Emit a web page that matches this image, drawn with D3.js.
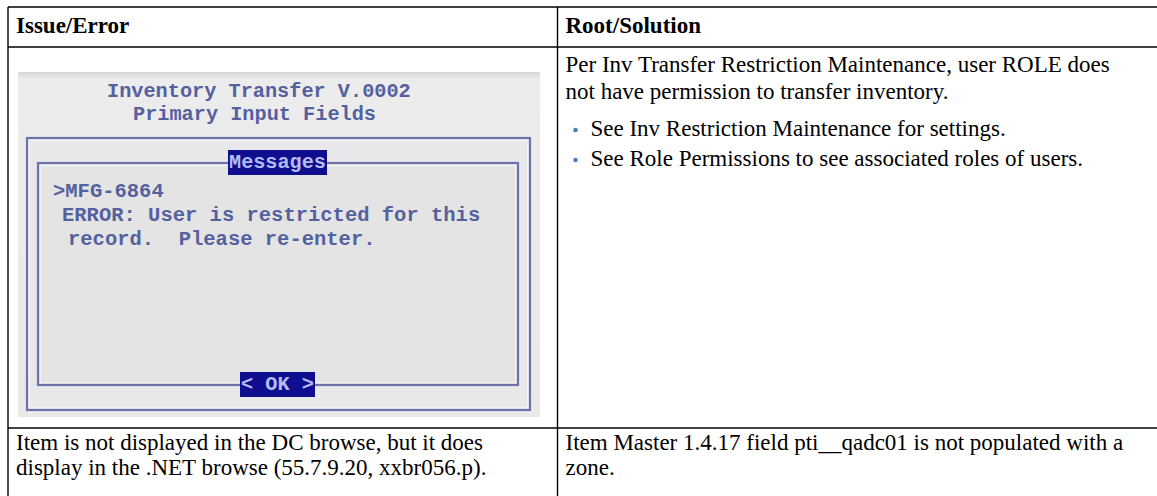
<!DOCTYPE html>
<html>
<head>
<meta charset="utf-8">
<script src="https://cdn.jsdelivr.net/npm/d3@7"></script>
<style>
  html, body { margin: 0; padding: 0; background: #ffffff; }
  svg { display: block; }
  text { white-space: pre; }
</style>
</head>
<body>
<div id="chart"></div>
<script>
// ---------- data ----------
const headers = ["Issue/Error", "Root/Solution"];
const rowIds = ["header", "row1", "row2"];
const solution1Lines = [
  "Per Inv Transfer Restriction Maintenance, user ROLE does",
  "not have permission to transfer inventory."
];
const solution1Bullets = [
  "See Inv Restriction Maintenance for settings.",
  "See Role Permissions to see associated roles of users."
];
const issue2Lines = [
  "Item is not displayed in the DC browse, but it does",
  "display in the .NET browse (55.7.9.20, xxbr056.p)."
];
const solution2Lines = [
  "Item Master 1.4.17 field pti__qadc01 is not populated with a",
  "zone."
];
const screenTitleLines = ["Inventory Transfer V.0002", "Primary Input Fields"];
const screenMessageLines = [">MFG-6864", "ERROR: User is restricted for this", "record.  Please re-enter."];
const screenLabel = "Messages";
const screenButton = "< OK >";

// ---------- layout ----------
const W = 1157, H = 496;
const svg = d3.select("#chart").append("svg").attr("width", W).attr("height", H);

const col = d3.scaleOrdinal().domain(headers).range([8, 557.5]);   // column left edges
const rowTop = d3.scaleOrdinal().domain(rowIds).range([7, 47, 428]);
const tableRight = 1170, tableBottom = 510;
const pad = 8;
const serif = "'Liberation Serif', 'Times New Roman', serif";
const mono = "'Liberation Mono', 'Courier New', monospace";
const fs = 23, lh = 27;

// grid lines
const g = svg.append("g");
g.selectAll("line.h").data(rowIds).join("line")
  .attr("x1", 8).attr("x2", tableRight)
  .attr("y1", d => rowTop(d)).attr("y2", d => rowTop(d))
  .attr("stroke", "#000").attr("stroke-width", 1.4);
g.selectAll("line.v").data(headers).join("line")
  .attr("x1", d => col(d)).attr("x2", d => col(d))
  .attr("y1", rowTop("header")).attr("y2", tableBottom)
  .attr("stroke", "#000").attr("stroke-width", 1.4);

// header texts
svg.selectAll("text.hdr").data(headers).join("text")
  .attr("x", d => col(d) + pad).attr("y", rowTop("header") + 26)
  .attr("font-family", serif).attr("font-weight", "bold").attr("font-size", fs)
  .attr("fill", "#000").text(d => d);

// row 1 solution
const c2 = col(headers[1]) + pad;
svg.selectAll("text.s1").data(solution1Lines).join("text")
  .attr("x", c2).attr("y", (d, i) => rowTop("row1") + 25 + i * lh)
  .attr("font-family", serif).attr("font-size", fs).attr("fill", "#000").text(d => d);
const bTop = rowTop("row1") + 25 + solution1Lines.length * lh + 10;
svg.selectAll("circle.b1").data(solution1Bullets).join("circle")
  .attr("cx", c2 + 10).attr("cy", (d, i) => bTop + i * 30 - 6).attr("r", 2.3)
  .attr("fill", "#4a7cc0");
svg.selectAll("text.b1").data(solution1Bullets).join("text")
  .attr("x", c2 + 25).attr("y", (d, i) => bTop + i * 30)
  .attr("font-family", serif).attr("font-size", fs).attr("fill", "#000").text(d => d);

// row 2
const r2lh = 25;
svg.selectAll("text.i2").data(issue2Lines).join("text")
  .attr("x", col(headers[0]) + pad).attr("y", (d, i) => rowTop("row2") + 22 + i * r2lh)
  .attr("font-family", serif).attr("font-size", fs).attr("fill", "#000").text(d => d);
svg.selectAll("text.s2").data(solution2Lines).join("text")
  .attr("x", c2).attr("y", (d, i) => rowTop("row2") + 22 + i * r2lh)
  .attr("font-family", serif).attr("font-size", fs).attr("fill", "#000").text(d => d);

// ---------- embedded terminal screenshot ----------
const sc = svg.append("g");
const sx0 = 18, sy0 = 72, sx1 = 540, sy1 = 417;
const grad = svg.append("defs").append("linearGradient").attr("id", "scrbg")
  .attr("x1", 0).attr("x2", 0).attr("y1", 0).attr("y2", 1);
grad.append("stop").attr("offset", "0%").attr("stop-color", "#d6d6d6");
grad.append("stop").attr("offset", "2%").attr("stop-color", "#ececec");
grad.append("stop").attr("offset", "100%").attr("stop-color", "#e9e9e9");
sc.append("rect").attr("x", sx0).attr("y", sy0).attr("width", sx1 - sx0).attr("height", sy1 - sy0)
  .attr("fill", "url(#scrbg)");

const boxes = [
  { x0: 27, y0: 138, x1: 530, y1: 410 },
  { x0: 38, y0: 163, x1: 518, y1: 385 }
];
sc.selectAll("rect.box").data(boxes).join("rect")
  .attr("x", d => d.x0).attr("y", d => d.y0)
  .attr("width", d => d.x1 - d.x0).attr("height", d => d.y1 - d.y0)
  .attr("fill", (d, i) => i === 0 ? "#e8e8ea" : "#e4e4e4")
  .attr("stroke", "#6c72aa").attr("stroke-width", 2.2);
sc.selectAll("rect.boxin").data(boxes).join("rect")
  .attr("x", d => d.x0 + 2.5).attr("y", d => d.y0 + 2.5)
  .attr("width", d => d.x1 - d.x0 - 5).attr("height", d => d.y1 - d.y0 - 5)
  .attr("fill", "none").attr("stroke", "#f3f3f6").attr("stroke-width", 1.2);

const txtCol = "#55609f";
const titleX = [107, 133];
sc.selectAll("text.st").data(screenTitleLines).join("text")
  .attr("x", (d, i) => titleX[i]).attr("y", (d, i) => 97 + i * 23)
  .attr("font-family", mono).attr("font-weight", "bold").attr("font-size", 20)
  .attr("textLength", d => d.length * 12.15).attr("lengthAdjust", "spacingAndGlyphs")
  .attr("fill", txtCol).text(d => d);

const msgX = [53, 62, 68];
sc.selectAll("text.sm").data(screenMessageLines).join("text")
  .attr("x", (d, i) => msgX[i]).attr("y", (d, i) => 197 + i * 24)
  .attr("font-family", mono).attr("font-weight", "bold").attr("font-size", 20)
  .attr("textLength", d => d.length * 12.3).attr("lengthAdjust", "spacingAndGlyphs")
  .attr("fill", txtCol).text(d => d);

// label and button
const tags = [
  { t: screenLabel, x0: 228, y0: 150, x1: 327, y1: 175 },
  { t: screenButton, x0: 240, y0: 372, x1: 315, y1: 397 }
];
sc.selectAll("rect.tag").data(tags).join("rect")
  .attr("x", d => d.x0).attr("y", d => d.y0)
  .attr("width", d => d.x1 - d.x0).attr("height", d => d.y1 - d.y0)
  .attr("fill", "#0e0e8e");
sc.selectAll("text.tag").data(tags).join("text")
  .attr("x", d => d.x0 + 1).attr("y", d => d.y1 - 7)
  .attr("font-family", mono).attr("font-weight", "bold").attr("font-size", 20)
  .attr("textLength", d => d.x1 - d.x0 - 2).attr("lengthAdjust", "spacingAndGlyphs")
  .attr("fill", "#b4bcf4").text(d => d.t);
</script>
</body>
</html>
